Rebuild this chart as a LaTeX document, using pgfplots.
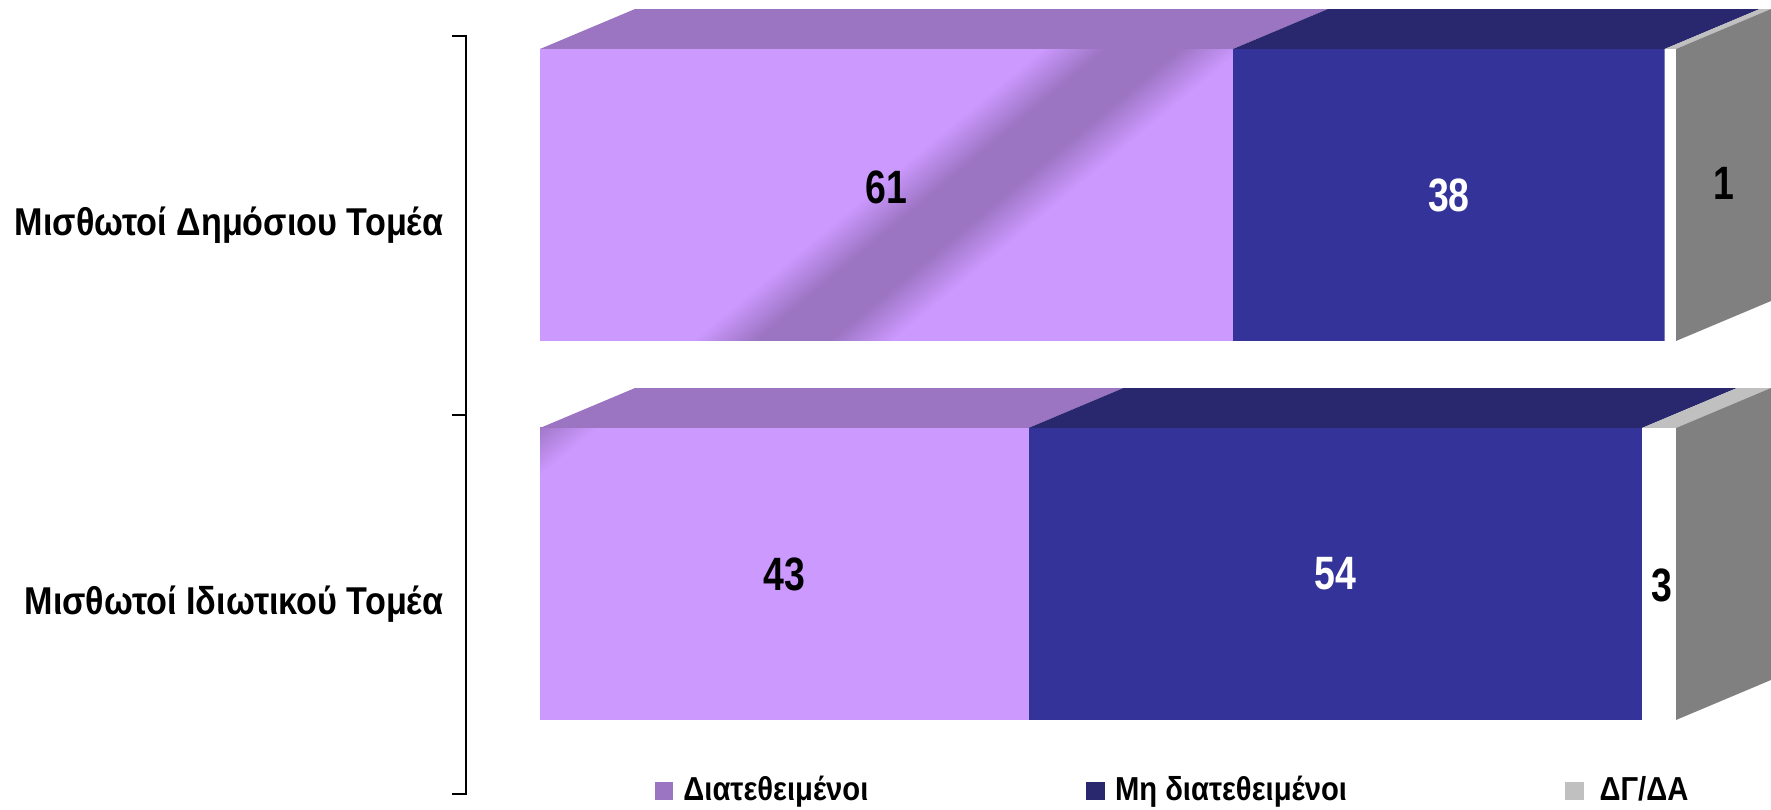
\documentclass[border=0pt]{standalone}
\usepackage{pgfplots}
\pgfplotsset{compat=1.18}
\usepackage{fontspec}
\setmainfont{Liberation Sans}
\newfontfamily\narrowfont{Liberation Sans}[FakeStretch=0.88]
\newfontfamily\numfont{Liberation Sans}[FakeStretch=0.80]

\definecolor{cfront}{HTML}{CC99FF}
\definecolor{ptop}{HTML}{9B74C2}
\definecolor{nfront}{HTML}{333399}
\definecolor{ntop}{HTML}{29286F}
\definecolor{gtop}{HTML}{C0C0C0}
\definecolor{gside}{HTML}{808080}
% tikz maps 25bp..75bp of a shading onto the path
\pgfdeclarehorizontalshading{band}{100bp}{color(0bp)=(cfront); color(25bp)=(cfront); color(41bp)=(ptop); color(59bp)=(ptop); color(75bp)=(cfront); color(100bp)=(cfront)}

% one axis unit in x = 11.36px, categories 379px apart, 1px = 0.25pt
\pgfplotsset{frame/.style={
    width=442.75pt, height=202.5pt, scale only axis,
    xmin=-47.54, xmax=108.36, ymin=-0.5145, ymax=1.6227,
    y dir=reverse, hide axis, clip=false}}

\begin{document}
\begin{tikzpicture}
% front faces of the bars
\begin{axis}[frame, xbar stacked, bar width=0.7704]
\addplot[fill=cfront, draw=none] coordinates {(61,0) (43,1)};
\addplot[fill=nfront, draw=none] coordinates {(38,0) (54,1)};
\addplot[fill=white, draw=none] coordinates {(1,0) (3,1)};
\coordinate (bc) at (axis cs:32.83,0.1187);
\coordinate (c1a) at (axis cs:0,-0.3852);
\coordinate (c1b) at (axis cs:61,0.3852);
\coordinate (bd) at (axis cs:-1.29,0.5522);
\coordinate (c2a) at (axis cs:0,0.6148);
\coordinate (c2b) at (axis cs:43,1.3852);
\path (rel axis cs:0,0) rectangle (rel axis cs:1,1);
\end{axis}

% glossy band on the purple faces
\begin{scope}
\clip (c1a) rectangle (c1b);
\begin{scope}[transform canvas={shift={(bc)}, rotate=-50.2, yscale=12.5}]
\shade[overlay, shading=band] (-16pt,-16pt) rectangle (16pt,16pt);
\end{scope}
\end{scope}
\begin{scope}
\clip (c2a) rectangle (c2b);
\begin{scope}[transform canvas={shift={(bd)}, rotate=-50.2, yscale=12.5}]
\shade[overlay, shading=band] (-16pt,-16pt) rectangle (16pt,16pt);
\end{scope}
\end{scope}

% depth faces, labels, legend
\begin{axis}[frame,
    legend style={at={(axis cs:10.1,1.5726)}, anchor=west, draw=none, fill=none,
        inner sep=0pt, outer sep=0pt, nodes={inner sep=0pt},
        font=\narrowfont\bfseries\fontsize{8.3}{9}\selectfont,
        /tikz/every odd column/.append style={column sep=2.5pt},
        /tikz/every even column/.append style={column sep=54.5pt}},
    legend columns=3, legend cell align=left]
\addlegendimage{legend image code/.code={\fill[ptop] (0pt,-2.1pt) rectangle (4.25pt,2.1pt);}}
\addlegendentry{Διατεθειμένοι}
\addlegendimage{legend image code/.code={\fill[ntop] (0pt,-2.1pt) rectangle (4.25pt,2.1pt);}}
\addlegendentry{Μη διατεθειμένοι}
\addlegendimage{legend image code/.code={\fill[gtop] (0pt,-2.1pt) rectangle (4.25pt,2.1pt);}}
\addlegendentry{\hspace{1.5pt}ΔΓ/ΔΑ}

% top faces, bar 1
\addplot[fill=ptop, draw=none] coordinates {(0,-0.3852) (61,-0.3852) (69.363,-0.4907) (8.363,-0.4907)} -- cycle;
\addplot[fill=ntop, draw=none] coordinates {(61,-0.3852) (99,-0.3852) (107.363,-0.4907) (69.363,-0.4907)} -- cycle;
\addplot[fill=gtop, draw=none] coordinates {(99,-0.3852) (100,-0.3852) (108.363,-0.4907) (107.363,-0.4907)} -- cycle;
\addplot[fill=gside, draw=none] coordinates {(100,-0.3852) (108.363,-0.4907) (108.363,0.2797) (100,0.3852)} -- cycle;
% top faces, bar 2
\addplot[fill=ptop, draw=none] coordinates {(0,0.6148) (43,0.6148) (51.363,0.5093) (8.363,0.5093)} -- cycle;
\addplot[fill=ntop, draw=none] coordinates {(43,0.6148) (97,0.6148) (105.363,0.5093) (51.363,0.5093)} -- cycle;
\addplot[fill=gtop, draw=none] coordinates {(97,0.6148) (100,0.6148) (108.363,0.5093) (105.363,0.5093)} -- cycle;
\addplot[fill=gside, draw=none] coordinates {(100,0.6148) (108.363,0.5093) (108.363,1.2797) (100,1.3852)} -- cycle;

% category axis
\addplot[black, line width=0.45pt] coordinates {(-7.75,-0.4195) (-6.5,-0.4195) (-6.5,1.5805) (-7.75,1.5805)};
\addplot[black, line width=0.45pt] coordinates {(-7.75,0.5805) (-6.5,0.5805)};
\node[anchor=east, inner sep=0pt, font=\narrowfont\bfseries\fontsize{9.7}{11}\selectfont] at (axis cs:-8.45,0.0792) {Μισθωτοί Δημόσιου Τομέα};
\node[anchor=east, inner sep=0pt, font=\narrowfont\bfseries\fontsize{9.7}{11}\selectfont] at (axis cs:-8.45,1.0792) {Μισθωτοί Ιδιωτικού Τομέα};

% value labels
\addplot[draw=none, nodes near coords, point meta=explicit symbolic,
    nodes near coords style={anchor=center, text=black, font=\numfont\bfseries\fontsize{11.7}{12}\selectfont}]
    coordinates {(30.5,-0.02)[61] (104.18,-0.03)[1] (21.5,1)[43] (98.8,1.03)[3]};
\addplot[draw=none, nodes near coords, point meta=explicit symbolic,
    nodes near coords style={anchor=center, text=white, font=\numfont\bfseries\fontsize{11.7}{12}\selectfont}]
    coordinates {(80,0)[38] (70,1)[54]};
\end{axis}
\end{tikzpicture}
\end{document}
